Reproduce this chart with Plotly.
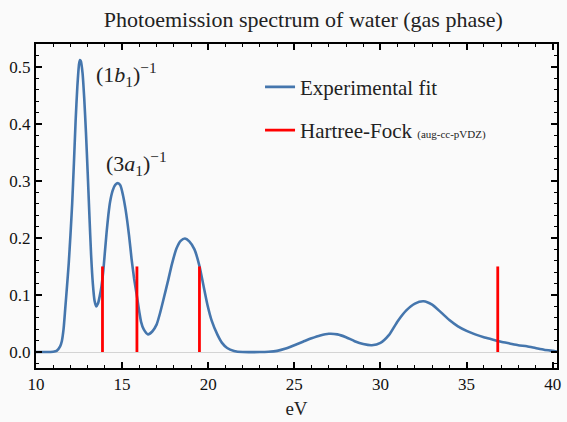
import plotly.graph_objects as go

# Experimental fit curve
energy_ev = [10.0, 10.5, 11.0, 11.2, 11.4, 11.5, 11.6, 11.7, 11.8, 11.9, 12.0, 12.1, 12.2, 12.3,
             12.4, 12.5, 12.55, 12.6, 12.7, 12.8, 12.9, 13.0, 13.1, 13.2, 13.3, 13.4, 13.5, 13.6,
             13.7, 13.8, 13.9, 14.0, 14.1, 14.2, 14.3, 14.45, 14.6, 14.77, 14.9, 15.05, 15.2, 15.4,
             15.55, 15.7, 15.88, 16.0, 16.1, 16.25, 16.5, 16.75, 17.0, 17.2, 17.4, 17.65, 17.9,
             18.15, 18.4, 18.65, 18.9, 19.2, 19.48, 19.7, 19.96, 20.2, 20.54, 20.8, 21.1, 21.5,
             22.0, 23.0, 23.5, 24.0, 24.5, 25.0, 25.5, 26.0, 26.5, 27.0, 27.5, 28.0, 28.5, 29.0,
             29.5, 30.0, 30.5, 31.0, 31.5, 32.0, 32.5, 33.0, 33.5, 34.0, 34.5, 35.0, 35.5, 36.0,
             36.5, 37.0, 37.5, 38.0, 38.5, 39.0, 39.5, 40.0, 40.25]
intensity = [0.0, 0.0, 0.0005, 0.002, 0.010, 0.019, 0.040, 0.077, 0.115, 0.155, 0.205, 0.260, 0.330, 0.405,
             0.465, 0.505, 0.512, 0.510, 0.490, 0.445, 0.385, 0.315, 0.240, 0.170, 0.120, 0.090, 0.080, 0.085,
             0.098, 0.115, 0.140, 0.175, 0.210, 0.240, 0.263, 0.283, 0.293, 0.296, 0.292, 0.275, 0.250, 0.205,
             0.163, 0.128, 0.094, 0.070, 0.053, 0.040, 0.031, 0.036, 0.048, 0.068, 0.092, 0.123, 0.155,
             0.181, 0.195, 0.199, 0.194, 0.180, 0.152, 0.120, 0.082, 0.055, 0.030, 0.016, 0.007, 0.002,
             0.0, 0.0, 0.0005, 0.002, 0.006, 0.012, 0.018, 0.024, 0.029, 0.032, 0.031, 0.026, 0.019, 0.014,
             0.012, 0.016, 0.030, 0.054, 0.073, 0.085, 0.089, 0.083, 0.070, 0.056, 0.045, 0.037, 0.031, 0.026,
             0.022, 0.018, 0.015, 0.012, 0.010, 0.007, 0.004, 0.002, 0.001]

# Hartree-Fock orbital energies (Koopmans), aug-cc-pVDZ
hf_energies = [13.86, 15.86, 19.49, 36.81]
hf_height = 0.15

x_ticks = [10, 15, 20, 25, 30, 35, 40]
y_ticks = [0.0, 0.1, 0.2, 0.3, 0.4, 0.5]

SERIF = "Liberation Serif, DejaVu Serif, serif"

hf_x, hf_y = [], []
for e in hf_energies:
    hf_x += [e, e, None]
    hf_y += [0.0, hf_height, None]

fig = go.Figure()
fig.add_trace(go.Scatter(
    x=energy_ev, y=intensity, mode="lines",
    line=dict(color="#4576ad", width=2.6, shape="spline", smoothing=0.6),
    name="Experimental fit", legendgroup="a"))
fig.add_trace(go.Scatter(
    x=hf_x, y=hf_y, mode="lines",
    line=dict(color="#ff0000", width=2.8),
    name="Hartree-Fock <span style='font-size:11px'>(aug-cc-pVDZ)</span>", legendgroup="b"))

axis_common = dict(
    showline=True, linecolor="black", linewidth=2, mirror="allticks",
    ticks="inside", ticklen=6, tickwidth=1.5, tickcolor="black",
    showgrid=False, tickfont=dict(family=SERIF, size=17, color="#111"),
)
fig.update_xaxes(range=[10, 40.25], tickvals=x_ticks, zeroline=False,
                 minor=dict(dtick=1, ticks="inside", ticklen=3, tickwidth=1.2, tickcolor="black"),
                 title=dict(text="eV", font=dict(family=SERIF, size=19, color="#222"), standoff=8),
                 **axis_common)
fig.update_yaxes(range=[-0.028, 0.54], tickvals=y_ticks, tickformat=".1f",
                 zeroline=True, zerolinecolor="#d4d4d4", zerolinewidth=1,
                 minor=dict(dtick=0.02, tick0=0, ticks="inside", ticklen=3, tickwidth=1.2, tickcolor="black"),
                 **axis_common)

fig.add_annotation(x=13.35, y=0.487, xanchor="left", yanchor="middle", showarrow=False,
                   text="(1<i>b</i><sub>1</sub>)<sup>−1</sup>",
                   font=dict(family=SERIF, size=22, color="#222"))
fig.add_annotation(x=13.92, y=0.330, xanchor="left", yanchor="middle", showarrow=False,
                   text="(3<i>a</i><sub>1</sub>)<sup>−1</sup>",
                   font=dict(family=SERIF, size=22, color="#222"))

fig.update_layout(
    width=567, height=422,
    margin=dict(l=36, r=6, t=44, b=52),
    paper_bgcolor="#fafafa", plot_bgcolor="#fafafa",
    title=dict(text="Photoemission spectrum of water (gas phase)", x=0.535, xanchor="center",
               y=0.955, yanchor="middle", font=dict(family=SERIF, size=22, color="#222")),
    legend=dict(x=0.43, y=0.93, xanchor="left", yanchor="top", bgcolor="rgba(0,0,0,0)",
                font=dict(family=SERIF, size=21, color="#222"), traceorder="grouped",
                tracegroupgap=13),
    showlegend=True,
)

fig.write_html("out.html")
